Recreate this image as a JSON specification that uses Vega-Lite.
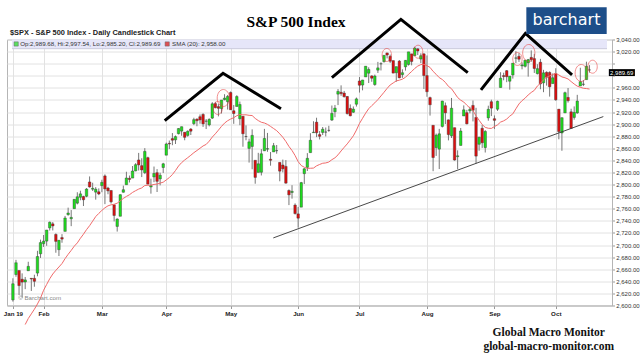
{
"$schema": "https://vega.github.io/schema/vega-lite/v6.json",
"width": 605, "height": 266,
"autosize": {"type": "none"},
"padding": {"left": 7, "top": 39.5, "right": 28, "bottom": 54.5},
"background": "white",
"config": {"font": "Liberation Sans", "view": {"stroke": "#b5b5b5", "strokeWidth": 1}, "axis": {"labelOverlap": false, "labelFlush": false}},
"datasets": {
"ohlc": [
{"i":0,"o":2609.28,"h":2645.06,"l":2606.36,"c":2635.96},
{"i":1,"o":2651.27,"h":2675.47,"l":2647.58,"c":2670.71},
{"i":2,"o":2657.88,"h":2657.88,"l":2617.27,"c":2632.90},
{"i":3,"o":2643.48,"h":2653.19,"l":2612.86,"c":2638.70},
{"i":4,"o":2638.84,"h":2647.20,"l":2627.01,"c":2642.33,"s":2568.53},
{"i":5,"o":2657.44,"h":2672.38,"l":2657.33,"c":2664.76,"s":2578.38},
{"i":6,"o":2644.97,"h":2644.97,"l":2624.06,"c":2643.85,"s":2586.13},
{"i":7,"o":2644.89,"h":2650.93,"l":2631.05,"c":2640.00,"s":2593.84},
{"i":8,"o":2653.62,"h":2690.44,"l":2648.34,"c":2681.05,"s":2602.55},
{"i":9,"o":2685.49,"h":2708.95,"l":2678.65,"c":2704.10,"s":2612.26},
{"i":10,"o":2702.32,"h":2716.66,"l":2696.88,"c":2706.53,"s":2625.19},
{"i":11,"o":2706.49,"h":2724.99,"l":2698.75,"c":2724.87,"s":2634.84},
{"i":12,"o":2728.34,"h":2738.98,"l":2724.03,"c":2737.70,"s":2644.24},
{"i":13,"o":2735.05,"h":2738.08,"l":2724.15,"c":2731.61,"s":2652.10},
{"i":14,"o":2717.53,"h":2719.32,"l":2687.26,"c":2706.05,"s":2658.15},
{"i":15,"o":2692.36,"h":2708.07,"l":2681.83,"c":2707.88,"s":2663.71},
{"i":16,"o":2712.40,"h":2718.05,"l":2703.79,"c":2709.80,"s":2669.39},
{"i":17,"o":2722.61,"h":2748.19,"l":2722.61,"c":2744.73,"s":2677.50},
{"i":18,"o":2750.30,"h":2761.85,"l":2748.63,"c":2753.03,"s":2684.63},
{"i":19,"o":2743.50,"h":2757.90,"l":2731.23,"c":2745.73,"s":2691.11},
{"i":20,"o":2760.24,"h":2775.66,"l":2760.24,"c":2775.60,"s":2698.10},
{"i":21,"o":2769.28,"h":2787.33,"l":2767.29,"c":2779.76,"s":2703.55},
{"i":22,"o":2779.05,"h":2789.88,"l":2774.06,"c":2784.70,"s":2711.14},
{"i":23,"o":2780.24,"h":2781.58,"l":2764.55,"c":2774.88,"s":2717.95},
{"i":24,"o":2780.67,"h":2794.20,"l":2779.11,"c":2792.67,"s":2725.47},
{"i":25,"o":2804.35,"h":2813.49,"l":2794.99,"c":2796.11,"s":2732.03},
{"i":26,"o":2792.36,"h":2803.12,"l":2789.47,"c":2793.90,"s":2739.54},
{"i":27,"o":2787.50,"h":2795.76,"l":2775.13,"c":2792.38,"s":2747.15},
{"i":28,"o":2788.11,"h":2793.73,"l":2782.51,"c":2784.49,"s":2752.33},
{"i":29,"o":2798.22,"h":2808.02,"l":2787.38,"c":2803.69,"s":2757.31},
{"i":30,"o":2814.37,"h":2816.88,"l":2767.66,"c":2792.81,"s":2761.62},
{"i":31,"o":2794.41,"h":2796.44,"l":2784.00,"c":2789.65,"s":2764.86},
{"i":32,"o":2790.27,"h":2790.27,"l":2768.69,"c":2771.45,"s":2766.55},
{"i":33,"o":2766.53,"h":2767.25,"l":2739.09,"c":2748.93,"s":2767.41},
{"i":34,"o":2730.79,"h":2744.13,"l":2722.27,"c":2743.07,"s":2769.26},
{"i":35,"o":2747.61,"h":2784.00,"l":2747.61,"c":2783.30,"s":2773.03},
{"i":36,"o":2787.34,"h":2798.32,"l":2786.73,"c":2791.52,"s":2777.12},
{"i":37,"o":2799.78,"h":2821.24,"l":2799.78,"c":2810.92,"s":2780.43},
{"i":38,"o":2810.38,"h":2815.00,"l":2803.46,"c":2808.48,"s":2783.20},
{"i":39,"o":2810.79,"h":2830.73,"l":2810.79,"c":2822.48,"s":2787.04},
{"i":40,"o":2822.61,"h":2835.41,"l":2821.99,"c":2832.94,"s":2789.91},
{"i":41,"o":2840.76,"h":2852.42,"l":2823.27,"c":2832.57,"s":2792.55},
{"i":42,"o":2831.34,"h":2843.54,"l":2812.43,"c":2824.23,"s":2794.52},
{"i":43,"o":2819.72,"h":2860.31,"l":2817.38,"c":2854.88,"s":2798.52},
{"i":44,"o":2844.52,"h":2846.16,"l":2800.47,"c":2800.71,"s":2798.93},
{"i":45,"o":2796.01,"h":2809.79,"l":2785.02,"c":2798.36,"s":2799.04},
{"i":46,"o":2812.66,"h":2829.87,"l":2803.99,"c":2818.46,"s":2800.27},
{"i":47,"o":2819.72,"h":2825.56,"l":2787.72,"c":2805.37,"s":2800.92},
{"i":48,"o":2809.40,"h":2819.71,"l":2798.77,"c":2815.44,"s":2802.46},
{"i":49,"o":2828.27,"h":2836.03,"l":2819.23,"c":2834.40,"s":2804.00},
{"i":50,"o":2848.63,"h":2869.40,"l":2848.63,"c":2867.19,"s":2807.72},
{"i":51,"o":2868.24,"h":2872.90,"l":2858.75,"c":2867.24,"s":2811.60},
{"i":52,"o":2876.09,"h":2885.25,"l":2865.17,"c":2873.40,"s":2816.69},
{"i":53,"o":2873.99,"h":2881.28,"l":2867.14,"c":2879.39,"s":2823.22},
{"i":54,"o":2884.16,"h":2893.24,"l":2882.99,"c":2892.74,"s":2830.70},
{"i":55,"o":2888.46,"h":2895.95,"l":2880.78,"c":2895.77,"s":2836.32},
{"i":56,"o":2886.58,"h":2886.88,"l":2873.33,"c":2878.20,"s":2840.66},
{"i":57,"o":2881.37,"h":2889.71,"l":2879.13,"c":2888.21,"s":2844.52},
{"i":58,"o":2891.92,"h":2893.42,"l":2881.99,"c":2888.32,"s":2848.52},
{"i":59,"o":2900.86,"h":2910.54,"l":2898.37,"c":2907.41,"s":2852.76},
{"i":60,"o":2908.32,"h":2909.60,"l":2896.48,"c":2905.58,"s":2856.39},
{"i":61,"o":2912.26,"h":2916.06,"l":2900.71,"c":2907.06,"s":2860.12},
{"i":62,"o":2916.04,"h":2918.00,"l":2895.45,"c":2900.45,"s":2863.93},
{"i":63,"o":2904.81,"h":2908.40,"l":2891.90,"c":2905.03,"s":2866.44},
{"i":64,"o":2898.78,"h":2909.51,"l":2896.35,"c":2907.97,"s":2871.80},
{"i":65,"o":2909.99,"h":2936.31,"l":2908.53,"c":2933.68,"s":2878.57},
{"i":66,"o":2934.00,"h":2936.83,"l":2926.05,"c":2927.25,"s":2884.01},
{"i":67,"o":2928.99,"h":2933.10,"l":2912.84,"c":2926.17,"s":2890.05},
{"i":68,"o":2925.81,"h":2939.88,"l":2917.56,"c":2939.88,"s":2896.27},
{"i":69,"o":2940.58,"h":2949.52,"l":2939.35,"c":2943.03,"s":2901.70},
{"i":70,"o":2937.14,"h":2948.22,"l":2924.11,"c":2945.83,"s":2905.63},
{"i":71,"o":2952.33,"h":2954.13,"l":2923.36,"c":2923.73,"s":2908.46},
{"i":72,"o":2922.16,"h":2931.68,"l":2900.50,"c":2917.52,"s":2910.66},
{"i":73,"o":2929.21,"h":2947.85,"l":2929.21,"c":2945.64,"s":2913.97},
{"i":74,"o":2908.89,"h":2937.32,"l":2898.21,"c":2932.47,"s":2915.96},
{"i":75,"o":2913.03,"h":2913.03,"l":2862.60,"c":2884.05,"s":2915.37},
{"i":76,"o":2879.61,"h":2897.96,"l":2873.28,"c":2879.42,"s":2915.44},
{"i":77,"o":2859.84,"h":2875.97,"l":2836.40,"c":2870.72,"s":2914.56},
{"i":78,"o":2863.10,"h":2891.31,"l":2825.39,"c":2881.40,"s":2914.21},
{"i":79,"o":2840.19,"h":2840.19,"l":2801.43,"c":2811.87,"s":2909.44},
{"i":80,"o":2820.12,"h":2852.54,"l":2820.12,"c":2834.41,"s":2905.88},
{"i":81,"o":2820.38,"h":2858.68,"l":2815.08,"c":2850.96,"s":2903.07},
{"i":82,"o":2855.80,"h":2892.15,"l":2855.80,"c":2876.32,"s":2901.87},
{"i":83,"o":2858.60,"h":2885.48,"l":2854.23,"c":2859.53,"s":2899.59},
{"i":84,"o":2841.94,"h":2853.86,"l":2831.29,"c":2840.23,"s":2896.21},
{"i":85,"o":2854.02,"h":2868.88,"l":2854.02,"c":2864.36,"s":2892.74},
{"i":86,"o":2856.06,"h":2865.47,"l":2851.11,"c":2856.27,"s":2889.19},
{"i":87,"o":2836.70,"h":2836.70,"l":2805.49,"c":2822.24,"s":2883.99},
{"i":88,"o":2832.41,"h":2841.36,"l":2820.19,"c":2826.06,"s":2878.30},
{"i":89,"o":2830.03,"h":2840.51,"l":2801.58,"c":2802.39,"s":2871.27},
{"i":90,"o":2790.25,"h":2792.03,"l":2766.06,"c":2783.02,"s":2863.13},
{"i":91,"o":2786.94,"h":2799.00,"l":2776.74,"c":2788.86,"s":2856.39},
{"i":92,"o":2766.15,"h":2768.98,"l":2750.52,"c":2752.06,"s":2848.11},
{"i":93,"o":2751.53,"h":2763.07,"l":2728.81,"c":2744.45,"s":2838.05},
{"i":94,"o":2762.64,"h":2804.49,"l":2762.64,"c":2803.27,"s":2831.59},
{"i":95,"o":2818.09,"h":2827.28,"l":2800.92,"c":2826.15,"s":2828.70},
{"i":96,"o":2828.51,"h":2852.10,"l":2822.45,"c":2843.49,"s":2826.90},
{"i":97,"o":2852.87,"h":2884.97,"l":2852.87,"c":2873.34,"s":2827.03},
{"i":98,"o":2885.83,"h":2904.77,"l":2885.51,"c":2886.73,"s":2827.30},
{"i":99,"o":2903.27,"h":2910.61,"l":2878.53,"c":2885.72,"s":2830.99},
{"i":100,"o":2882.73,"h":2888.57,"l":2874.68,"c":2879.84,"s":2833.26},
{"i":101,"o":2886.24,"h":2895.24,"l":2881.99,"c":2891.64,"s":2835.30},
{"i":102,"o":2886.82,"h":2894.45,"l":2879.62,"c":2886.98,"s":2835.83},
{"i":103,"o":2889.75,"h":2897.27,"l":2887.30,"c":2889.67,"s":2837.34},
{"i":104,"o":2906.71,"h":2930.79,"l":2905.44,"c":2917.75,"s":2841.21},
{"i":105,"o":2920.55,"h":2931.74,"l":2911.43,"c":2926.46,"s":2844.32},
{"i":106,"o":2949.60,"h":2958.06,"l":2931.50,"c":2954.18,"s":2849.22},
{"i":107,"o":2952.71,"h":2964.15,"l":2946.87,"c":2950.46,"s":2855.63},
{"i":108,"o":2951.42,"h":2954.92,"l":2944.05,"c":2945.35,"s":2861.59},
{"i":109,"o":2945.78,"h":2946.52,"l":2916.01,"c":2917.38,"s":2867.34},
{"i":110,"o":2926.07,"h":2932.59,"l":2912.99,"c":2913.78,"s":2873.88},
{"i":111,"o":2919.66,"h":2929.30,"l":2918.57,"c":2924.92,"s":2880.68},
{"i":112,"o":2932.94,"h":2943.98,"l":2929.05,"c":2941.76,"s":2890.17},
{"i":113,"o":2971.41,"h":2977.93,"l":2952.22,"c":2964.33,"s":2901.16},
{"i":114,"o":2964.66,"h":2973.21,"l":2955.92,"c":2973.01,"s":2909.65},
{"i":115,"o":2978.08,"h":2995.84,"l":2977.96,"c":2995.82,"s":2918.13},
{"i":116,"o":2984.25,"h":2994.03,"l":2967.97,"c":2990.41,"s":2925.48},
{"i":117,"o":2979.77,"h":2980.76,"l":2970.09,"c":2975.95,"s":2930.61},
{"i":118,"o":2965.52,"h":2981.90,"l":2963.44,"c":2979.63,"s":2935.25},
{"i":119,"o":2989.30,"h":3002.98,"l":2984.62,"c":2993.07,"s":2940.62},
{"i":120,"o":2999.62,"h":3002.33,"l":2988.80,"c":2999.91,"s":2946.62},
{"i":121,"o":3003.36,"h":3013.92,"l":3001.87,"c":3013.77,"s":2952.73},
{"i":122,"o":3017.80,"h":3017.80,"l":3008.77,"c":3014.30,"s":2959.10},
{"i":123,"o":3012.13,"h":3015.02,"l":3001.15,"c":3004.04,"s":2964.81},
{"i":124,"o":3005.10,"h":3005.26,"l":2984.25,"c":2984.42,"s":2968.15},
{"i":125,"o":2985.00,"h":2995.11,"l":2970.09,"c":2995.11,"s":2971.58},
{"i":126,"o":3004.26,"h":3006.02,"l":2975.86,"c":2976.61,"s":2972.70},
{"i":127,"o":2981.93,"h":2990.71,"l":2976.65,"c":2985.03,"s":2974.43},
{"i":128,"o":2994.74,"h":3005.90,"l":2988.56,"c":3005.47,"s":2977.44},
{"i":129,"o":2998.77,"h":3019.59,"l":2996.82,"c":3019.56,"s":2982.55},
{"i":130,"o":3016.26,"h":3016.31,"l":2997.24,"c":3003.67,"s":2987.04},
{"i":131,"o":3013.25,"h":3027.98,"l":3012.59,"c":3025.86,"s":2992.09},
{"i":132,"o":3024.47,"h":3025.61,"l":3014.30,"c":3020.97,"s":2996.05},
{"i":133,"o":3007.66,"h":3017.19,"l":3000.94,"c":3013.18,"s":2998.49},
{"i":134,"o":3016.22,"h":3017.40,"l":2958.08,"c":2980.38,"s":2998.86},
{"i":135,"o":2980.32,"h":3013.59,"l":2945.23,"c":2953.56,"s":2996.75},
{"i":136,"o":2943.90,"h":2945.50,"l":2914.11,"c":2932.05,"s":2993.83},
{"i":137,"o":2898.07,"h":2898.07,"l":2822.12,"c":2844.74,"s":2987.27},
{"i":138,"o":2861.18,"h":2884.40,"l":2847.42,"c":2881.77,"s":2982.37},
{"i":139,"o":2858.65,"h":2892.17,"l":2825.71,"c":2883.98,"s":2976.92},
{"i":140,"o":2896.21,"h":2938.72,"l":2894.47,"c":2938.09,"s":2973.83},
{"i":141,"o":2930.51,"h":2935.75,"l":2900.15,"c":2918.65,"s":2969.07},
{"i":142,"o":2907.07,"h":2907.58,"l":2873.14,"c":2882.70,"s":2962.49},
{"i":143,"o":2880.72,"h":2943.31,"l":2877.05,"c":2926.32,"s":2958.61},
{"i":144,"o":2894.15,"h":2894.15,"l":2839.64,"c":2840.60,"s":2951.42},
{"i":145,"o":2846.20,"h":2856.67,"l":2825.51,"c":2847.60,"s":2944.04},
{"i":146,"o":2864.74,"h":2893.63,"l":2864.74,"c":2888.68,"s":2939.64},
{"i":147,"o":2913.48,"h":2931.00,"l":2913.48,"c":2923.65,"s":2936.57},
{"i":148,"o":2919.01,"h":2923.63,"l":2899.60,"c":2900.51,"s":2931.33},
{"i":149,"o":2922.04,"h":2928.73,"l":2917.91,"c":2924.43,"s":2926.57},
{"i":150,"o":2930.94,"h":2939.08,"l":2904.51,"c":2922.95,"s":2922.53},
{"i":151,"o":2911.07,"h":2927.01,"l":2834.97,"c":2847.11,"s":2913.60},
{"i":152,"o":2866.70,"h":2879.27,"l":2856.00,"c":2878.38,"s":2906.47},
{"i":153,"o":2893.14,"h":2898.79,"l":2860.59,"c":2869.16,"s":2899.27},
{"i":154,"o":2861.28,"h":2890.03,"l":2853.05,"c":2887.94,"s":2894.64},
{"i":155,"o":2910.37,"h":2930.50,"l":2905.67,"c":2924.58,"s":2893.19},
{"i":156,"o":2937.09,"h":2940.43,"l":2913.32,"c":2926.46,"s":2892.92},
{"i":157,"o":2909.01,"h":2914.39,"l":2891.85,"c":2906.27,"s":2895.99},
{"i":158,"o":2924.67,"h":2938.84,"l":2921.86,"c":2937.78,"s":2898.79},
{"i":159,"o":2960.60,"h":2985.86,"l":2960.60,"c":2976.00,"s":2903.39},
{"i":160,"o":2980.33,"h":2985.03,"l":2972.51,"c":2978.71,"s":2905.42},
{"i":161,"o":2988.43,"h":2989.43,"l":2969.39,"c":2978.43,"s":2908.41},
{"i":162,"o":2971.01,"h":2979.39,"l":2957.01,"c":2979.39,"s":2913.25},
{"i":163,"o":2981.41,"h":3000.93,"l":2975.31,"c":3000.93,"s":2916.98},
{"i":164,"o":3009.08,"h":3020.74,"l":3000.92,"c":3009.57,"s":2925.43},
{"i":165,"o":3012.21,"h":3017.33,"l":3002.90,"c":3007.39,"s":2933.42},
{"i":166,"o":2996.41,"h":3002.19,"l":2990.67,"c":2997.96,"s":2938.88},
{"i":167,"o":2995.67,"h":3006.21,"l":2993.73,"c":3005.70,"s":2942.98},
{"i":168,"o":3001.50,"h":3007.83,"l":2978.57,"c":3006.73,"s":2948.29},
{"i":169,"o":3010.36,"h":3021.99,"l":3003.16,"c":3006.79,"s":2952.41},
{"i":170,"o":3008.42,"h":3016.37,"l":2984.68,"c":2992.07,"s":2955.87},
{"i":171,"o":2983.50,"h":2999.15,"l":2982.23,"c":2991.78,"s":2963.10},
{"i":172,"o":3002.43,"h":3007.98,"l":2957.73,"c":2966.60,"s":2967.51},
{"i":173,"o":2968.35,"h":2989.82,"l":2952.86,"c":2984.87,"s":2973.30},
{"i":174,"o":2985.73,"h":2987.28,"l":2963.71,"c":2977.62,"s":2977.78},
{"i":175,"o":2985.47,"h":2987.31,"l":2945.53,"c":2961.79,"s":2979.64},
{"i":176,"o":2967.07,"h":2983.85,"l":2967.07,"c":2976.74,"s":2982.16},
{"i":177,"o":2983.69,"h":2992.53,"l":2938.70,"c":2940.25,"s":2983.86},
{"i":178,"o":2924.78,"h":2924.78,"l":2874.93,"c":2887.61,"s":2981.35},
{"i":179,"o":2885.38,"h":2911.13,"l":2855.94,"c":2910.63,"s":2978.08},
{"i":180,"o":2918.56,"h":2953.74,"l":2918.56,"c":2952.01,"s":2976.74},
{"i":181,"o":2944.23,"h":2959.75,"l":2935.68,"c":2938.79,"s":2974.76},
{"i":182,"o":2920.40,"h":2925.47,"l":2892.66,"c":2893.06,"s":2970.44},
{"i":183,"o":2911.10,"h":2929.32,"l":2907.41,"c":2919.40,"s":2966.37},
{"i":184,"o":2918.55,"h":2948.46,"l":2917.12,"c":2938.13,"s":2962.80},
{"i":185,"o":2963.07,"h":2993.28,"l":2963.07,"c":2970.27,"s":2960.94},
{"i":186,"o":2965.81,"h":2972.84,"l":2962.94,"c":2966.15,"s":2959.35},
{"i":187,"o":2973.61,"h":3003.28,"l":2973.61,"c":2995.68,"s":2958.85},
{"i":188,"o":2989.68,"h":2997.54,"l":2985.20,"c":2989.69,"s":2958.00}
],
"hs": [
{"g":"L","o":1,"i":49.5,"p":2905.9},{"g":"L","o":2,"i":68.5,"p":2984.2},{"g":"L","o":3,"i":87.4,"p":2925.3},
{"g":"H","o":1,"i":104.0,"p":2976.9},{"g":"H","o":2,"i":126.5,"p":3073.3},{"g":"H","o":3,"i":148.3,"p":2985.2},
{"g":"R","o":1,"i":152.6,"p":2956.6},{"g":"R","o":2,"i":167.1,"p":3050.2},{"g":"R","o":3,"i":182.3,"p":2981.4}
],
"circles": [
{"k":"big","i":68.6,"p":2943.2},{"k":"small","i":66.8,"p":2926.7},{"k":"small","i":121.9,"p":3014.4},{"k":"small","i":132.1,"p":3019.8},
{"k":"small","i":164.5,"p":3007.7},{"k":"big","i":168.2,"p":3017.7},{"k":"big","i":185.3,"p":2984.6},{"k":"small","i":189.0,"p":2995}
]
},
"data": {"name": "ohlc"},
"layer": [
{"mark": {"type": "rule", "color": "#777", "strokeWidth": 1, "opacity": 0},
 "encoding": {
  "x": {"field": "i", "type": "quantitative", "scale": {"domain": [-0.3, 193.7], "nice": false, "zero": false},
   "axis": {"values": [0,10,29,50,71,93,113,135,157,177], "tickCount": 40, "labelExpr": "['Jan 19','Feb','Mar','Apr','May','Jun','Jul','Aug','Sep','Oct'][indexof([0,10,29,50,71,93,113,135,157,177], datum.value)]", "grid": true, "gridColor": "#e2e2e2", "labelFontSize": 6.2, "labelFontWeight": "bold", "labelColor": "#222", "tickSize": 3, "tickColor": "#999", "domainColor": "#b5b5b5", "title": null, "labelPadding": 2, "labelFlush": false, "labelOverlap": false}},
  "y": {"field": "l", "type": "quantitative", "scale": {"domain": [2600, 3040], "nice": false, "zero": false},
   "axis": {"orient": "right", "values": [2600,2620,2640,2660,2680,2700,2720,2740,2760,2780,2800,2820,2840,2860,2880,2900,2920,2940,2960,2980,3000,3020,3040], "tickCount": 40, "labelExpr": "datum.value == 3000 || datum.value == 2980 ? '' : format(datum.value, ',.2f')", "grid": true, "gridColor": "#e2e2e2", "labelFontSize": 6, "labelColor": "#333", "tickSize": 2.5, "tickColor": "#999", "domainColor": "#b5b5b5", "title": null, "labelPadding": 1.2, "labelFlush": false, "labelOverlap": false, "labelBound": false}},
  "y2": {"field": "h"}}},
{"data": {"values": [{}]}, "mark": {"type": "rect", "fill": "#e6e6f9"},
 "encoding": {
  "x": {"datum": -0.3, "type": "quantitative", "scale": {"domain": [-0.3, 193.7], "nice": false, "zero": false}},
  "x2": {"datum": 193.7},
  "y": {"datum": 3024.8, "type": "quantitative", "scale": {"domain": [2600, 3040], "nice": false, "zero": false}},
  "y2": {"datum": 3040}}},
{"data": {"values": [{}]}, "mark": {"type": "rule", "color": "#c9c9dc", "strokeWidth": 1},
 "encoding": {
  "x": {"datum": -0.3, "type": "quantitative", "scale": {"domain": [-0.3, 193.7], "nice": false, "zero": false}},
  "x2": {"datum": 193.7},
  "y": {"datum": 3024.8, "type": "quantitative", "scale": {"domain": [2600, 3040], "nice": false, "zero": false}}}},
{"mark": {"type": "rule", "color": "#777", "strokeWidth": 1},
 "encoding": {
  "x": {"field": "i", "type": "quantitative", "scale": {"domain": [-0.3, 193.7], "nice": false, "zero": false}},
  "y": {"field": "l", "type": "quantitative", "scale": {"domain": [2600, 3040], "nice": false, "zero": false}},
  "y2": {"field": "h"}}},
{"mark": {"type": "bar", "size": 2.5, "stroke": "#333", "strokeWidth": 0.4},
 "encoding": {
  "x": {"field": "i", "type": "quantitative", "scale": {"domain": [-0.3, 193.7], "nice": false, "zero": false}},
  "y": {"field": "o", "type": "quantitative", "scale": {"domain": [2600, 3040], "nice": false, "zero": false}},
  "y2": {"field": "c"},
  "color": {"condition": {"test": "datum.c >= datum.o", "value": "#1fdc1f"}, "value": "#dc1010"}}},
{"mark": {"type": "line", "color": "#f06a6a", "strokeWidth": 1},
 "encoding": {
  "x": {"field": "i", "type": "quantitative", "scale": {"domain": [-0.3, 193.7], "nice": false, "zero": false}},
  "y": {"field": "s", "type": "quantitative", "scale": {"domain": [2600, 3040], "nice": false, "zero": false}}}},
{"data": {"name": "hs"}, "mark": {"type": "line", "color": "#000", "strokeWidth": 3},
 "encoding": {
  "x": {"field": "i", "type": "quantitative", "scale": {"domain": [-0.3, 193.7], "nice": false, "zero": false}},
  "y": {"field": "p", "type": "quantitative", "scale": {"domain": [2600, 3040], "nice": false, "zero": false}},
  "detail": {"field": "g"}, "order": {"field": "o"}}},
{"data": {"values": [{}]}, "mark": {"type": "rule", "color": "#333", "strokeWidth": 0.9},
 "encoding": {
  "x": {"datum": 84.9, "type": "quantitative", "scale": {"domain": [-0.3, 193.7], "nice": false, "zero": false}},
  "x2": {"datum": 192.5},
  "y": {"datum": 2711.8, "type": "quantitative", "scale": {"domain": [2600, 3040], "nice": false, "zero": false}},
  "y2": {"datum": 2912.5}}},
{"data": {"name": "circles"}, "transform": [{"filter": "datum.k == 'big'"}],
 "mark": {"type": "point", "shape": "M 0 -1 A 0.72 1 0 1 1 0 1 A 0.72 1 0 1 1 0 -1 Z", "filled": false, "stroke": "#e83a3a", "strokeWidth": 0.8, "size": 289},
 "encoding": {
  "x": {"field": "i", "type": "quantitative", "scale": {"domain": [-0.3, 193.7], "nice": false, "zero": false}},
  "y": {"field": "p", "type": "quantitative", "scale": {"domain": [2600, 3040], "nice": false, "zero": false}}}},
{"data": {"name": "circles"}, "transform": [{"filter": "datum.k == 'small'"}],
 "mark": {"type": "point", "shape": "M 0 -1 A 0.72 1 0 1 1 0 1 A 0.72 1 0 1 1 0 -1 Z", "filled": false, "stroke": "#e83a3a", "strokeWidth": 0.8, "size": 169},
 "encoding": {
  "x": {"field": "i", "type": "quantitative", "scale": {"domain": [-0.3, 193.7], "nice": false, "zero": false}},
  "y": {"field": "p", "type": "quantitative", "scale": {"domain": [2600, 3040], "nice": false, "zero": false}}}},
{"data": {"values": [{"t": "Op:2,989.68, Hi:2,997.54, Lo:2,985.20, Cl:2,989.69", "i": 2.35, "sq": 1.06, "col": "up"}, {"t": "SMA (20): 2,958.00", "i": 51.9, "sq": 50.3, "col": "sma"}]},
 "layer": [
  {"mark": {"type": "point", "shape": "square", "filled": true, "size": 18, "stroke": "#333", "strokeWidth": 0.5},
   "encoding": {
    "x": {"field": "sq", "type": "quantitative", "scale": {"domain": [-0.3, 193.7], "nice": false, "zero": false}},
    "y": {"datum": 3032.6, "type": "quantitative", "scale": {"domain": [2600, 3040], "nice": false, "zero": false}},
    "color": {"field": "col", "type": "nominal", "scale": {"domain": ["up", "sma"], "range": ["#1fdc1f", "#dc1010"]}, "legend": null}}},
  {"mark": {"type": "text", "align": "left", "baseline": "middle", "fontSize": 6.2, "color": "#333"},
   "encoding": {
    "x": {"field": "i", "type": "quantitative", "scale": {"domain": [-0.3, 193.7], "nice": false, "zero": false}},
    "y": {"datum": 3032.6, "type": "quantitative", "scale": {"domain": [2600, 3040], "nice": false, "zero": false}},
    "text": {"field": "t"}}}
 ]},
{"data": {"values": [{}]}, "mark": {"type": "rect", "fill": "#000"},
 "encoding": {
  "x": {"datum": 194.3, "type": "quantitative", "scale": {"domain": [-0.3, 193.7], "nice": false, "zero": false}},
  "x2": {"datum": 202.8},
  "y": {"datum": 2979.5, "type": "quantitative", "scale": {"domain": [2600, 3040], "nice": false, "zero": false}},
  "y2": {"datum": 2991}}},
{"data": {"values": [{}]}, "mark": {"type": "text", "align": "left", "baseline": "middle", "fontSize": 6, "color": "#fff", "text": "2,989.69"},
 "encoding": {
  "x": {"datum": 194.7, "type": "quantitative", "scale": {"domain": [-0.3, 193.7], "nice": false, "zero": false}},
  "y": {"datum": 2985.3, "type": "quantitative", "scale": {"domain": [2600, 3040], "nice": false, "zero": false}}}},
{"data": {"values": [{}]}, "mark": {"type": "rect", "fill": "#1d4e89"},
 "encoding": {
  "x": {"datum": 167.4, "type": "quantitative", "scale": {"domain": [-0.3, 193.7], "nice": false, "zero": false}},
  "x2": {"datum": 193.6},
  "y": {"datum": 3049.1, "type": "quantitative", "scale": {"domain": [2600, 3040], "nice": false, "zero": false}},
  "y2": {"datum": 3093.3}}},
{"data": {"values": [{}]}, "mark": {"type": "text", "align": "center", "baseline": "middle", "fontSize": 16, "color": "#fff", "font": "DejaVu Sans", "text": "barchart"},
 "encoding": {
  "x": {"datum": 180.5, "type": "quantitative", "scale": {"domain": [-0.3, 193.7], "nice": false, "zero": false}},
  "y": {"datum": 3071.5, "type": "quantitative", "scale": {"domain": [2600, 3040], "nice": false, "zero": false}}}},
{"data": {"values": [{}]}, "mark": {"type": "text", "align": "center", "baseline": "middle", "fontSize": 15.5, "fontWeight": "bold", "font": "Liberation Serif", "color": "#000", "text": "S&P 500 Index"},
 "encoding": {
  "x": {"datum": 92.3, "type": "quantitative", "scale": {"domain": [-0.3, 193.7], "nice": false, "zero": false}},
  "y": {"datum": 3068.9, "type": "quantitative", "scale": {"domain": [2600, 3040], "nice": false, "zero": false}}}},
{"data": {"values": [{}]}, "mark": {"type": "text", "align": "left", "baseline": "middle", "fontSize": 7.4, "fontWeight": "bold", "color": "#222", "text": "$SPX - S&P 500 Index - Daily Candlestick Chart"},
 "encoding": {
  "x": {"datum": -0.96, "type": "quantitative", "scale": {"domain": [-0.3, 193.7], "nice": false, "zero": false}},
  "y": {"datum": 3050.3, "type": "quantitative", "scale": {"domain": [2600, 3040], "nice": false, "zero": false}}}},
{"data": {"values": [{}]}, "mark": {"type": "text", "align": "left", "baseline": "middle", "fontSize": 6.2, "color": "#888", "text": "© Barchart.com"},
 "encoding": {
  "x": {"datum": 1.7, "type": "quantitative", "scale": {"domain": [-0.3, 193.7], "nice": false, "zero": false}},
  "y": {"datum": 2611.9, "type": "quantitative", "scale": {"domain": [2600, 3040], "nice": false, "zero": false}}}},
{"data": {"values": [{}]}, "mark": {"type": "text", "align": "center", "baseline": "middle", "fontSize": 11.5, "fontWeight": "bold", "font": "Liberation Serif", "color": "#111", "text": "Global Macro Monitor"},
 "encoding": {
  "x": {"datum": 174.7, "type": "quantitative", "scale": {"domain": [-0.3, 193.7], "nice": false, "zero": false}},
  "y": {"datum": 2554.5, "type": "quantitative", "scale": {"domain": [2600, 3040], "nice": false, "zero": false}}}},
{"data": {"values": [{}]}, "mark": {"type": "text", "align": "center", "baseline": "middle", "fontSize": 11.5, "fontWeight": "bold", "font": "Liberation Serif", "color": "#111", "text": "global-macro-monitor.com"},
 "encoding": {
  "x": {"datum": 174.7, "type": "quantitative", "scale": {"domain": [-0.3, 193.7], "nice": false, "zero": false}},
  "y": {"datum": 2531.3, "type": "quantitative", "scale": {"domain": [2600, 3040], "nice": false, "zero": false}}}}
]
}
